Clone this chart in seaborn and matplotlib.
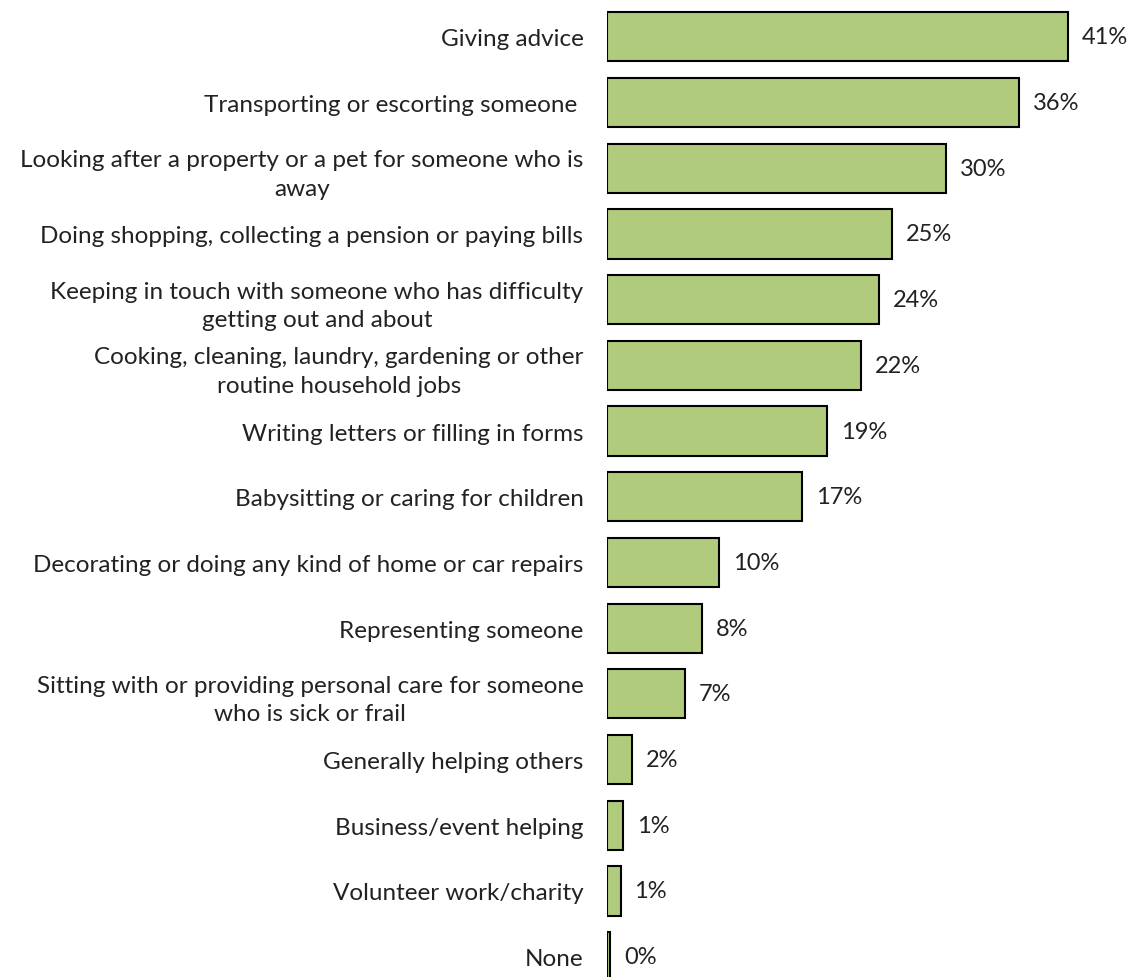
import matplotlib
matplotlib.use("Agg")
import matplotlib.pyplot as plt
import seaborn as sns
import pandas as pd

categories = [
    "Giving advice",
    "Transporting or escorting someone ",
    "Looking after a property or a pet for someone who is\naway",
    "Doing shopping, collecting a pension or paying bills",
    "Keeping in touch with someone who has difficulty\ngetting out and about",
    "Cooking, cleaning, laundry, gardening or other\nroutine household jobs",
    "Writing letters or filling in forms",
    "Babysitting or caring for children",
    "Decorating or doing any kind of home or car repairs",
    "Representing someone",
    "Sitting with or providing personal care for someone\nwho is sick or frail",
    "Generally helping others",
    "Business/event helping",
    "Volunteer work/charity",
    "None",
]
values = [40.6, 36.3, 29.9, 25.1, 24.0, 22.4, 19.4, 17.2, 9.9, 8.4, 6.9, 2.2, 1.4, 1.2, 0.3]
value_labels = ["41%", "36%", "30%", "25%", "24%", "22%", "19%", "17%", "10%", "8%", "7%", "2%", "1%", "1%", "0%"]

df = pd.DataFrame({"category": categories, "value": values})

sns.set_theme(style="white")
plt.rcParams["font.family"] = ["Lato", "DejaVu Sans"]

fig = plt.figure(figsize=(11.29, 9.78), dpi=100)
ax = fig.add_axes([607 / 1129, 0.0, 1 - 607 / 1129, 1 - 5 / 978])

sns.barplot(data=df, x="value", y="category", orient="h", color="#B0CB7C",
            edgecolor="black", linewidth=1.5, width=0.75, saturation=1, ax=ax)

for i, (v, lab) in enumerate(zip(values, value_labels)):
    ax.annotate(lab, xy=(v, i), xytext=(10, 0), textcoords="offset points",
                ha="left", va="center", fontsize=17, color="#222222")

ax.set_xlim(0, 46.0)
ax.set_ylim(14.31, -0.5)
ax.set_xlabel("")
ax.set_ylabel("")
ax.set_xticks([])
for s in ax.spines.values():
    s.set_visible(False)
ax.tick_params(axis="y", length=0, pad=17, labelsize=17.5, labelcolor="#222222")
for t in ax.get_yticklabels():
    t.set_multialignment("center")
    t.set_linespacing(1.45)

fig.savefig("out.png", dpi=100)
